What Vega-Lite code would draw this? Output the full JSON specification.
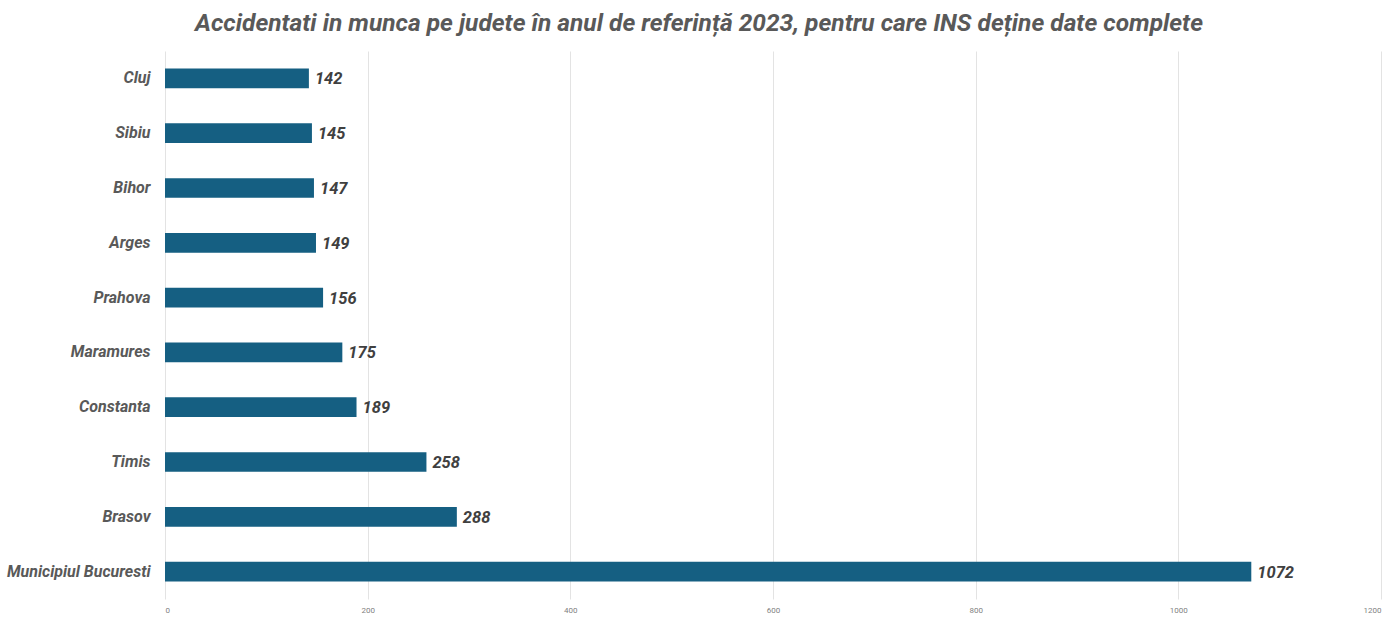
{
  "$schema": "https://vega.github.io/schema/vega-lite/v6.json",
  "autosize": {"type": "none"},
  "padding": {"left": 165, "top": 51, "right": 19, "bottom": 35},
  "width": 1216,
  "height": 548,
  "background": "white",
  "title": {
    "text": "Accidentati in munca pe judete în anul de referință 2023, pentru care INS deține date complete",
    "font": "Roboto",
    "fontSize": 24.5,
    "fontWeight": "bold",
    "fontStyle": "italic",
    "color": "#595959",
    "anchor": "middle",
    "dx": -74,
    "offset": 15
  },
  "data": {
    "values": [
      {"judet": "Cluj", "accidentati": 142},
      {"judet": "Sibiu", "accidentati": 145},
      {"judet": "Bihor", "accidentati": 147},
      {"judet": "Arges", "accidentati": 149},
      {"judet": "Prahova", "accidentati": 156},
      {"judet": "Maramures", "accidentati": 175},
      {"judet": "Constanta", "accidentati": 189},
      {"judet": "Timis", "accidentati": 258},
      {"judet": "Brasov", "accidentati": 288},
      {"judet": "Municipiul Bucuresti", "accidentati": 1072}
    ]
  },
  "encoding": {
    "y": {
      "field": "judet",
      "type": "nominal",
      "sort": {"field": "accidentati", "order": "ascending"},
      "title": null,
      "scale": {"paddingInner": 0.64, "paddingOuter": 0.32},
      "axis": {
        "domain": false,
        "ticks": false,
        "labelPadding": 15,
        "labelFont": "Roboto",
        "labelFontSize": 16,
        "labelFontWeight": "bold",
        "labelFontStyle": "italic",
        "labelColor": "#595959",
        "labelLimit": 200
      }
    },
    "x": {
      "field": "accidentati",
      "type": "quantitative",
      "title": null,
      "scale": {"domain": [0, 1200], "nice": false},
      "axis": {
        "values": [0, 200, 400, 600, 800, 1000, 1200],
        "format": "d",
        "domain": false,
        "ticks": false,
        "grid": true,
        "gridColor": "#e3e3e3",
        "labelPadding": 7,
        "labelFont": "Roboto",
        "labelFontSize": 8,
        "labelColor": "#7f7f7f"
      }
    }
  },
  "layer": [
    {
      "mark": {"type": "bar", "color": "#155F82"}
    },
    {
      "mark": {
        "type": "text",
        "align": "left",
        "baseline": "middle",
        "dx": 6,
        "dy": 1,
        "font": "Roboto",
        "fontSize": 16.5,
        "fontWeight": "bold",
        "fontStyle": "italic",
        "color": "#404040"
      },
      "encoding": {
        "text": {"field": "accidentati", "type": "quantitative"}
      }
    }
  ],
  "config": {
    "view": {"stroke": null}
  }
}
